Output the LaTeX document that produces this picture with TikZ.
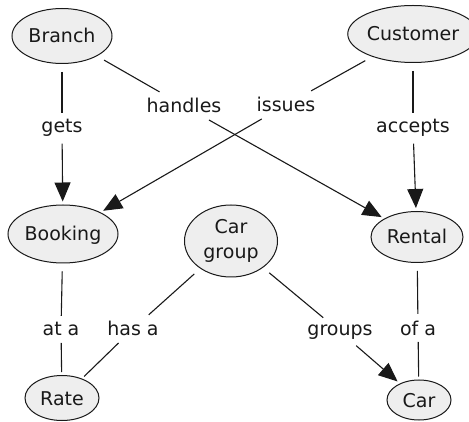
\documentclass[tikz,border=0pt]{standalone}
\usepackage{fontspec}
\setmainfont{DejaVu Sans}
\usetikzlibrary{shapes.geometric,arrows.meta}
\definecolor{conceptfill}{RGB}{238,238,238}
\definecolor{ink}{RGB}{25,25,25}
\begin{document}
\begin{tikzpicture}[x=1pt,y=-1pt,
  conceptbase/.style={ellipse,draw=ink,line width=1pt,fill=conceptfill,inner sep=0pt,
    font=\fontsize{19}{25}\selectfont,text=ink},
  concept/.style={conceptbase,text height=14pt,text depth=0pt},
  linklabel/.style={font=\fontsize{19}{24}\selectfont,text=ink,inner sep=6.5pt,anchor=base},
  fromconcept/.style={draw=ink,line width=1.1pt,shorten <=8pt},
  toconcept/.style={draw=ink,line width=1.1pt,shorten >=3pt},
  toconceptarrow/.style={toconcept,-{Triangle[length=19pt,width=16pt]}}
]
\useasboundingbox (0,0) rectangle (469,422);

% concepts
\node[concept,minimum width=100pt,minimum height=55pt] (branch)   at (62,36)   {Branch};
\node[concept,minimum width=114pt,minimum height=57pt] (customer) at (413,34)  {Customer};
\node[concept,minimum width=110pt,minimum height=58pt] (booking)  at (63,234)  {Booking};
\node[conceptbase,minimum width=93pt,minimum height=72pt,align=center] (cargroup) at (231,241) {Car\\group};
\node[concept,minimum width=92pt,minimum height=51pt]  (rental)   at (417,237) {Rental};
\node[concept,minimum width=74pt,minimum height=45pt]  (rate)     at (62,398)  {Rate};
\node[concept,minimum width=64pt,minimum height=40pt]  (car)      at (419,400) {Car};

% link labels
\node[linklabel] (gets)    at (62,133)  {gets};
\node[linklabel] (handles) at (184,113) {handles};
\node[linklabel] (issues)  at (286,112) {issues};
\node[linklabel] (accepts) at (413,133) {accepts};
\node[linklabel] (ata)     at (61,336)  {at a};
\node[linklabel] (hasa)    at (133,336) {has a};
\node[linklabel] (groups)  at (340,335) {groups};
\node[linklabel] (ofa)     at (418,335) {of a};

% relations
\draw[fromconcept] (branch) -- (gets);
\draw[toconceptarrow] (gets) -- (booking);
\draw[fromconcept] (branch) -- (handles);
\draw[toconceptarrow] (handles) -- (rental);
\draw[fromconcept] (customer) -- (issues);
\draw[toconceptarrow] (issues) -- (booking);
\draw[fromconcept] (customer) -- (accepts);
\draw[toconceptarrow] (accepts) -- (rental);
\draw[fromconcept] (booking) -- (ata);
\draw[toconcept] (ata) -- (rate);
\draw[fromconcept] (cargroup) -- (hasa);
\draw[toconcept] (hasa) -- (rate);
\draw[fromconcept] (cargroup) -- (groups);
\draw[toconceptarrow] (groups) -- (car);
\draw[fromconcept] (rental) -- (ofa);
\draw[toconcept] (ofa) -- (car);
\end{tikzpicture}
\end{document}
